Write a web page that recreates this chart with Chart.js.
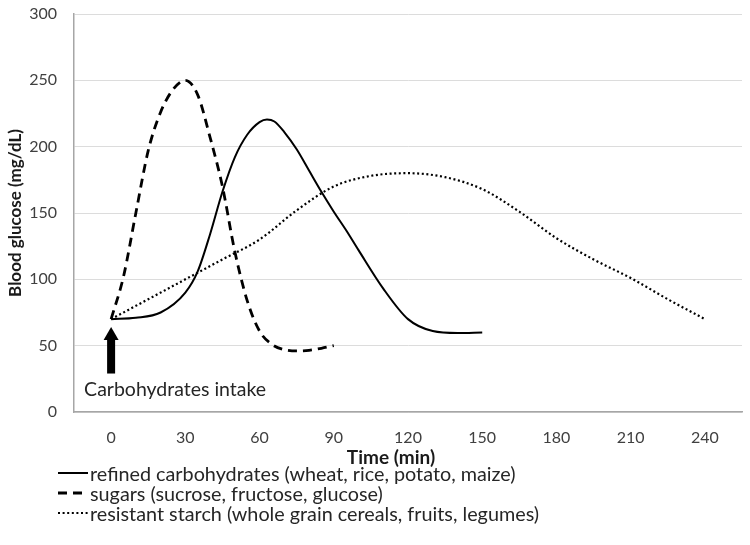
<!DOCTYPE html>
<html>
<head>
<meta charset="utf-8">
<script src="https://cdn.jsdelivr.net/npm/chart.js@4.4.1/dist/chart.umd.min.js"></script>
<style>
body{margin:0;background:#fff;font-family:Lato,sans-serif}
#wrap{position:relative;width:750px;height:545px}
#legend{position:absolute;left:58px;top:463px;color:#262626;font-size:19.8px}
.row{display:flex;align-items:center;height:20px}
.row svg{margin-right:2px}
</style>
</head>
<body>
<div id="wrap">
<canvas id="glucoseChart" width="750" height="545"></canvas>
<div id="legend"></div>
</div>
<script>

// ===============================
// DATA
// ===============================

const xTicks = [0,30,60,90,120,150,180,210,240]

const refinedTime = [0,10,20,30,35,40,45,50,55,60,63,66,70,75,80,85,90,95,100,110,120,130,140,150]
const refinedValues = [70,71,75,90,106,134,166,192,209,218.5,220.5,219,211,198,182,166,151,137,122,93,70,61,59.5,60]

const sugarsTime = [0,5,10,15,20,25,30,35,40,45,50,55,60,65,70,75,80,85,90]
const sugarsValues = [70,102,150,197,226,243,250,239,207,170,121,84,61,51,47,46,46.5,48,50]

const starchTime = [0,15,30,45,60,75,90,105,120,135,150,165,180,195,210,225,240]
const starchValues = [70,85,100,115,130,152,170,178,180,177,168,151,131,115,101,85,70]

const seriesNames = [
"refined carbohydrates (wheat, rice, potato, maize)",
"sugars (sucrose, fructose, glucose)",
"resistant starch (whole grain cereals, fruits, legumes)"
]

const seriesDash = [[],[9,6],[2,2.6]]
const seriesWidth = [2,2.8,2.2]

function toPoints(xs, ys){
return xs.map((x,i)=>({x:x, y:ys[i]}))
}

// ===============================
// ARROW, NOTE, X TITLE
// ===============================

const intakeNote = {
id:"intakeNote",
afterDatasetsDraw(chart){

const {ctx, scales, chartArea} = chart
const cx = scales.x.getPixelForValue(0)
const tip = scales.y.getPixelForValue(64)
const base = scales.y.getPixelForValue(29)

ctx.save()
ctx.fillStyle = "#000"

// shaft
ctx.fillRect(cx-4, tip+12, 8, base-tip-12)

// head
ctx.beginPath()
ctx.moveTo(cx, tip)
ctx.lineTo(cx+7.5, tip+13)
ctx.lineTo(cx-7.5, tip+13)
ctx.closePath()
ctx.fill()

ctx.fillStyle = "#262626"
ctx.font = "19.5px Lato"
ctx.textBaseline = "alphabetic"
ctx.textAlign = "left"
ctx.fillText("Carbohydrates intake", cx-27, base+22)

// x axis title (Excel centers it on the whole chart, not the plot)
ctx.fillStyle = "#1a1a1a"
ctx.font = "bold 19px Lato"
ctx.textAlign = "center"
ctx.fillText("Time (min)", (chartArea.left+chartArea.right)/2 - 17, chartArea.bottom+52)

ctx.restore()
}
}

// ===============================
// CHART
// ===============================

Chart.defaults.font.family = "Lato"

const lineStyle = {
borderColor:"#000",
pointRadius:0,
fill:false,
cubicInterpolationMode:"monotone"
}

new Chart(document.getElementById("glucoseChart"),{

type:"line",

data:{
datasets:[
{...lineStyle, label:seriesNames[0], data:toPoints(refinedTime, refinedValues), borderWidth:seriesWidth[0], borderDash:seriesDash[0]},
{...lineStyle, label:seriesNames[1], data:toPoints(sugarsTime, sugarsValues), borderWidth:seriesWidth[1], borderDash:seriesDash[1]},
{...lineStyle, label:seriesNames[2], data:toPoints(starchTime, starchValues), borderWidth:seriesWidth[2], borderDash:seriesDash[2]}
]
},

options:{
responsive:false,
animation:false,

layout:{
padding:{top:14, right:8, bottom:75, left:0}
},

plugins:{
legend:{display:false},
tooltip:{enabled:false}
},

scales:{

x:{
type:"linear",
min:-15,
max:255,
afterBuildTicks:(s)=>{ s.ticks = xTicks.map(v=>({value:v})) },
afterFit:(s)=>{ s.height = 58 },
grid:{display:false, drawTicks:false},
border:{color:"#a6a6a6", width:1.5},
ticks:{
color:"#404040",
font:{size:16},
padding:16,
maxRotation:0,
autoSkip:false
}
},

y:{
min:0,
max:300,
afterFit:(s)=>{
s.width = 74
s.paddingTop = 0
s.paddingBottom = 0
},
grid:{color:"#dcdcdc", drawTicks:false},
border:{color:"#a6a6a6", width:1.5},
ticks:{
stepSize:50,
color:"#404040",
font:{size:16},
padding:17
},
title:{
display:true,
text:"Blood glucose (mg/dL)",
color:"#1a1a1a",
font:{size:17, weight:"bold"},
padding:{top:5, bottom:0}
}
}

}

},

plugins:[intakeNote]

})

// ===============================
// LEGEND
// ===============================

const legend = document.getElementById("legend")

seriesNames.forEach((name,i)=>{

const row = document.createElement("div")
row.className = "row"

const dash = seriesDash[i].length ? seriesDash[i].join(",") : "none"

row.innerHTML = `
<svg width="30" height="10"><line x1="0" y1="5" x2="30" y2="5" stroke="#000" stroke-width="${seriesWidth[i]}" stroke-dasharray="${dash}"/></svg>
<span>${name}</span>
`

legend.appendChild(row)

})

</script>
</body>
</html>
